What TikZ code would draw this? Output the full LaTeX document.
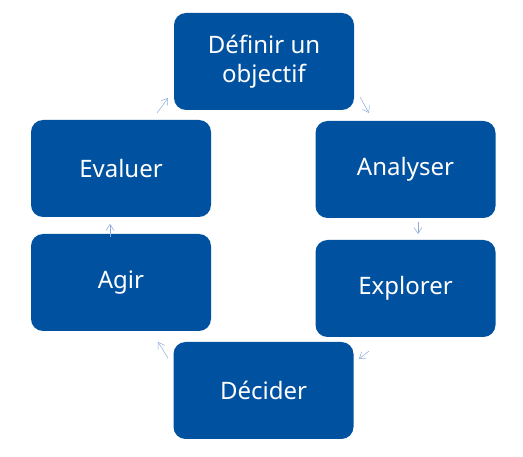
\documentclass[tikz,border=0pt]{standalone}
\usepackage{fontspec}
\setmainfont{Noto Sans}
\usetikzlibrary{arrows.meta}
\definecolor{boxblue}{RGB}{0,81,160}
\definecolor{arrblue}{RGB}{140,172,222}
\tikzset{
  stepbox/.style={draw=none, fill=boxblue, rounded corners=12pt, minimum width=180pt, minimum height=97pt, text=white, font=\fontsize{24}{29}\selectfont, align=center, inner sep=0pt},
  conn/.style={draw=arrblue, line width=0.5pt, -{Straight Barb[length=6pt,width=8pt]}}
}
\begin{document}
\begin{tikzpicture}[x=1pt,y=-1pt]
\useasboundingbox (0,0) rectangle (523,457);
\node[stepbox] (D) at (264,61.5) {Définir un\\objectif};
\node[stepbox] (An) at (405.5,169.5) {Analyser};
\node[stepbox] (Ex) at (405.5,288.5) {Explorer};
\node[stepbox] (Dc) at (263.5,390.5) {Décider};
\node[stepbox] (Ag) at (121,282.5) {Agir};
\node[stepbox] (Ev) at (121,168.5) {Evaluer};
\coordinate (a1) at (360,97);  \coordinate (b1) at (369,113);
\coordinate (a2) at (418,222); \coordinate (b2) at (418,234);
\coordinate (a3) at (369,351); \coordinate (b3) at (359,359);
\coordinate (a4) at (168,358); \coordinate (b4) at (158,342);
\coordinate (a5) at (110,237); \coordinate (b5) at (110,224);
\coordinate (a6) at (157,113); \coordinate (b6) at (168,98);
\draw[conn] (a1) -- (b1);
\draw[conn] (a2) -- (b2);
\draw[conn] (a3) -- (b3);
\draw[conn] (a4) -- (b4);
\draw[conn] (a5) -- (b5);
\draw[conn] (a6) -- (b6);
\end{tikzpicture}
\end{document}
